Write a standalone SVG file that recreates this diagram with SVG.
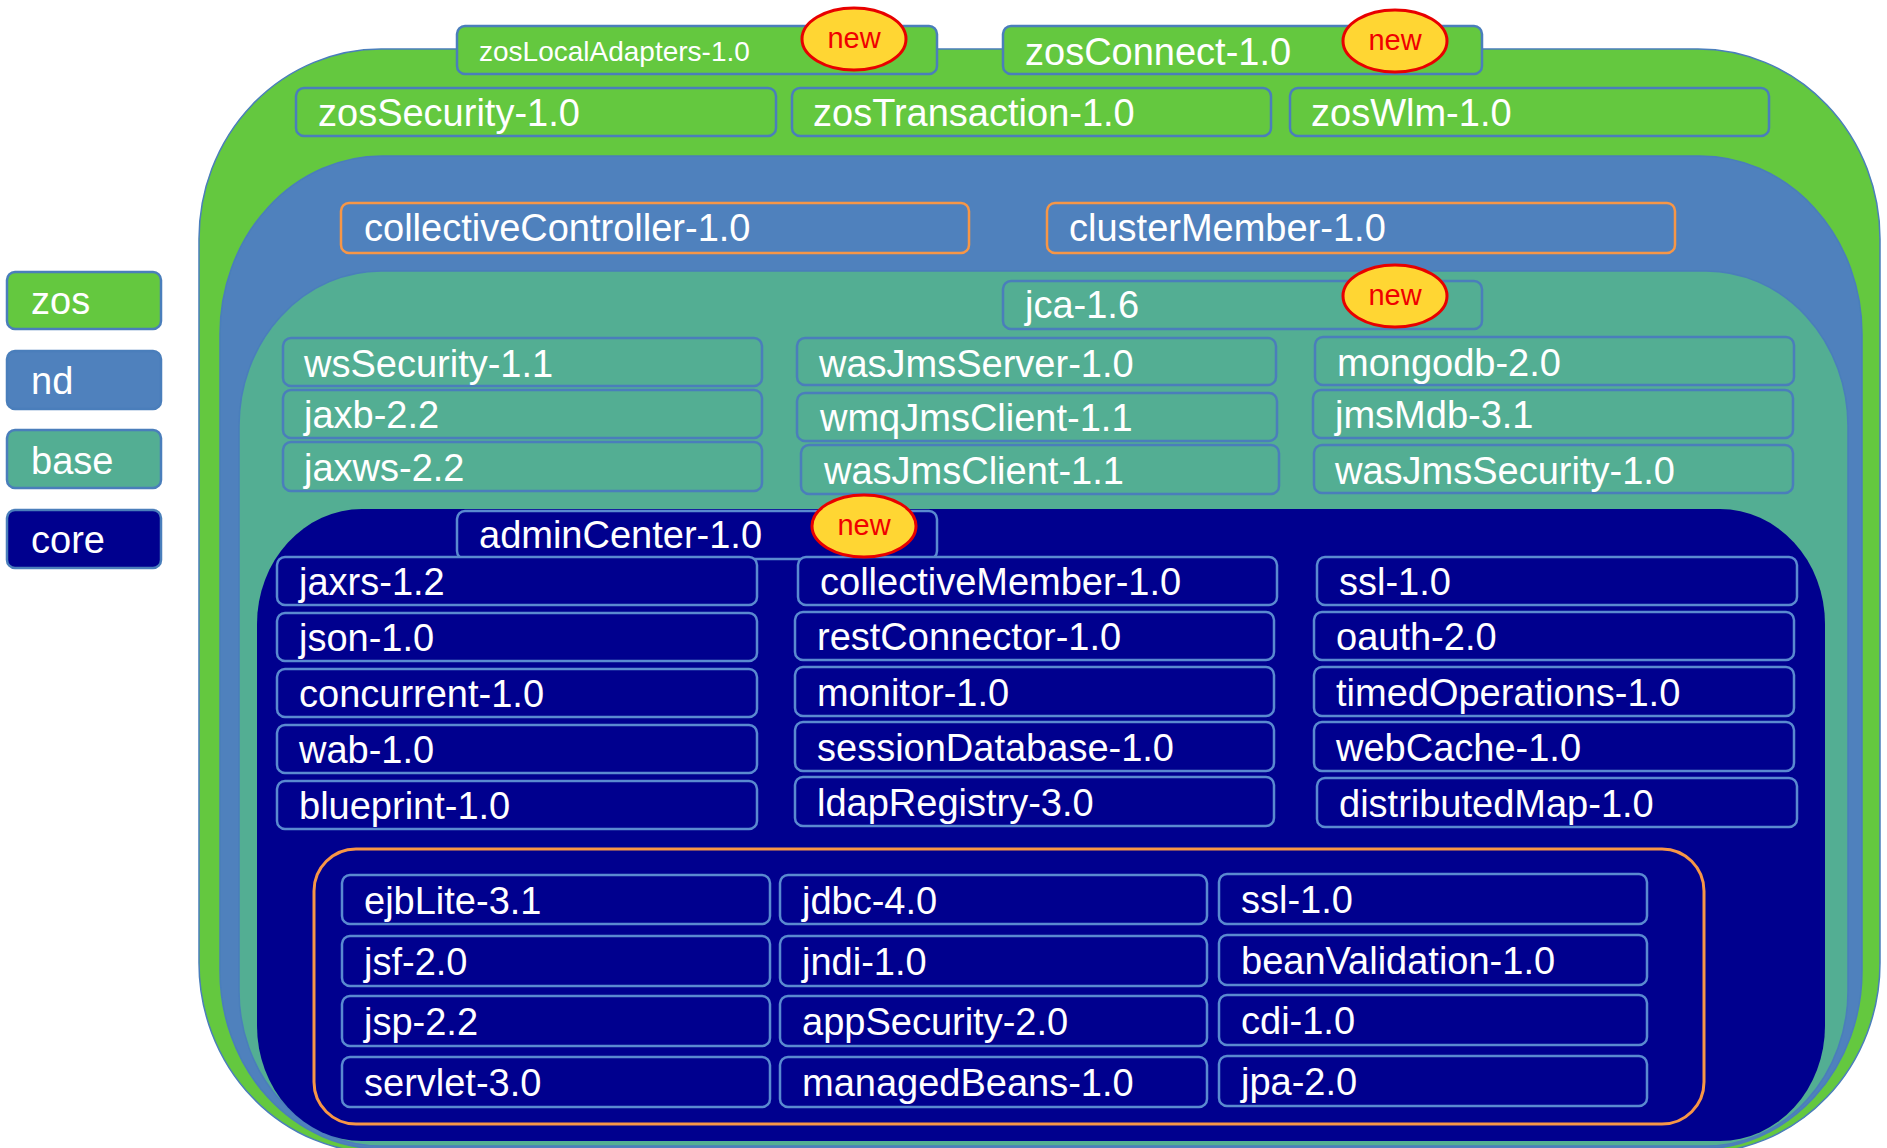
<svg xmlns="http://www.w3.org/2000/svg" width="1887" height="1148" viewBox="0 0 1887 1148">
<style>
text{font-family:"Liberation Sans",Arial,sans-serif;fill:#fff;font-size:38px}
.s{font-size:28px}
.nw{fill:#F00000;font-size:29px;text-anchor:middle}
.gn{fill:#64C83F;stroke:#4A7EBB;stroke-width:2.5}
.nd{fill:#4F81BD;stroke:#F79646;stroke-width:2.5}
.bs{fill:#53AE93;stroke:#4A7EBB;stroke-width:2.5}
.cr{fill:#00008E;stroke:#5A8AD0;stroke-width:2.5}
.bd{fill:#FFD633;stroke:#E80000;stroke-width:3}
.lay{stroke:#4A7EBB;stroke-width:1.5}
</style>
<rect width="1887" height="1148" fill="#fff"/>
<g id="layers">
<rect id="layer-zos" class="lay" x="199" y="49" width="1681" height="1104" rx="182" ry="190" fill="#64C83F"/>
<rect id="layer-nd" class="lay" x="220" y="156" width="1642" height="993" rx="162" ry="178" fill="#4F81BD"/>
<rect id="layer-base" class="lay" x="239" y="271" width="1609" height="875" rx="142" ry="155" fill="#53AE93"/>
<rect id="layer-core" x="257" y="509" width="1568" height="632" rx="105" ry="115" fill="#00008E"/>
<rect id="app-group" x="314" y="849" width="1390" height="275" rx="42" fill="none" stroke="#F79646" stroke-width="3"/>
</g>
<g id="connectors"/>
<g id="legend">
<g id="legend-zos"><rect class="gn" x="7" y="272" width="154" height="57" rx="8"/><text x="31" y="314">zos</text></g>
<g id="legend-nd"><rect class="bs" style="fill:#4F81BD" x="7" y="351" width="154" height="58" rx="8"/><text x="31" y="394">nd</text></g>
<g id="legend-base"><rect class="bs" x="7" y="430" width="154" height="58" rx="8"/><text x="31" y="474">base</text></g>
<g id="legend-core"><rect class="bs" style="fill:#00008E" x="7" y="510" width="154" height="58" rx="8"/><text x="31" y="553">core</text></g>
</g>
<g id="zos-nodes">
<g id="zosLocalAdapters"><rect class="gn" x="457" y="26" width="480" height="48" rx="8"/><text class="s" x="479" y="61">zosLocalAdapters-1.0</text></g>
<g id="zosConnect"><rect class="gn" x="1003" y="26" width="479" height="48" rx="8"/><text x="1025" y="65">zosConnect-1.0</text></g>
<g id="zosSecurity"><rect class="gn" x="296" y="88" width="480" height="48" rx="8"/><text x="318" y="126">zosSecurity-1.0</text></g>
<g id="zosTransaction"><rect class="gn" x="792" y="88" width="479" height="48" rx="8"/><text x="813" y="126">zosTransaction-1.0</text></g>
<g id="zosWlm"><rect class="gn" x="1290" y="88" width="479" height="48" rx="8"/><text x="1311" y="126">zosWlm-1.0</text></g>
</g>
<g id="nd-nodes">
<g id="collectiveController"><rect class="nd" x="341" y="203" width="628" height="50" rx="8"/><text x="364" y="241">collectiveController-1.0</text></g>
<g id="clusterMember"><rect class="nd" x="1047" y="203" width="628" height="50" rx="8"/><text x="1069" y="241">clusterMember-1.0</text></g>
</g>
<g id="base-nodes">
<g id="jca"><rect class="bs" x="1003" y="281" width="479" height="48" rx="8"/><text x="1025" y="318">jca-1.6</text></g>
<g id="wsSecurity"><rect class="bs" x="283" y="338" width="479" height="48" rx="8"/><text x="304" y="377">wsSecurity-1.1</text></g>
<g id="jaxb"><rect class="bs" x="283" y="390" width="479" height="48" rx="8"/><text x="304" y="428">jaxb-2.2</text></g>
<g id="jaxws"><rect class="bs" x="283" y="442" width="479" height="49" rx="8"/><text x="304" y="481">jaxws-2.2</text></g>
<g id="wasJmsServer"><rect class="bs" x="797" y="338" width="479" height="47" rx="8"/><text x="819" y="377">wasJmsServer-1.0</text></g>
<g id="wmqJmsClient"><rect class="bs" x="797" y="393" width="480" height="48" rx="8"/><text x="820" y="431">wmqJmsClient-1.1</text></g>
<g id="wasJmsClient"><rect class="bs" x="801" y="445" width="478" height="49" rx="8"/><text x="824" y="484">wasJmsClient-1.1</text></g>
<g id="mongodb"><rect class="bs" x="1315" y="337" width="479" height="48" rx="8"/><text x="1337" y="376">mongodb-2.0</text></g>
<g id="jmsMdb"><rect class="bs" x="1313" y="390" width="480" height="48" rx="8"/><text x="1335" y="428">jmsMdb-3.1</text></g>
<g id="wasJmsSecurity"><rect class="bs" x="1314" y="445" width="479" height="48" rx="8"/><text x="1335" y="484">wasJmsSecurity-1.0</text></g>
</g>
<g id="core-nodes">
<g id="adminCenter"><rect class="cr" x="457" y="511" width="480" height="48" rx="8"/><text x="479" y="548">adminCenter-1.0</text></g>
<g id="jaxrs"><rect class="cr" x="277" y="557" width="480" height="48" rx="8"/><text x="299" y="595">jaxrs-1.2</text></g>
<g id="json"><rect class="cr" x="277" y="613" width="480" height="48" rx="8"/><text x="299" y="651">json-1.0</text></g>
<g id="concurrent"><rect class="cr" x="277" y="669" width="480" height="48" rx="8"/><text x="299" y="707">concurrent-1.0</text></g>
<g id="wab"><rect class="cr" x="277" y="725" width="480" height="48" rx="8"/><text x="299" y="763">wab-1.0</text></g>
<g id="blueprint"><rect class="cr" x="277" y="781" width="480" height="48" rx="8"/><text x="299" y="819">blueprint-1.0</text></g>
<g id="collectiveMember"><rect class="cr" x="798" y="557" width="479" height="48" rx="8"/><text x="820" y="595">collectiveMember-1.0</text></g>
<g id="restConnector"><rect class="cr" x="795" y="612" width="479" height="48" rx="8"/><text x="817" y="650">restConnector-1.0</text></g>
<g id="monitor"><rect class="cr" x="795" y="667" width="479" height="49" rx="8"/><text x="817" y="706">monitor-1.0</text></g>
<g id="sessionDatabase"><rect class="cr" x="795" y="722" width="479" height="49" rx="8"/><text x="817" y="761">sessionDatabase-1.0</text></g>
<g id="ldapRegistry"><rect class="cr" x="795" y="777" width="479" height="49" rx="8"/><text x="817" y="816">ldapRegistry-3.0</text></g>
<g id="ssl-core"><rect class="cr" x="1317" y="557" width="480" height="48" rx="8"/><text x="1339" y="595">ssl-1.0</text></g>
<g id="oauth"><rect class="cr" x="1314" y="612" width="480" height="48" rx="8"/><text x="1336" y="650">oauth-2.0</text></g>
<g id="timedOperations"><rect class="cr" x="1314" y="667" width="480" height="49" rx="8"/><text x="1336" y="706">timedOperations-1.0</text></g>
<g id="webCache"><rect class="cr" x="1314" y="722" width="480" height="49" rx="8"/><text x="1336" y="761">webCache-1.0</text></g>
<g id="distributedMap"><rect class="cr" x="1317" y="778" width="480" height="49" rx="8"/><text x="1339" y="817">distributedMap-1.0</text></g>
</g>
<g id="app-nodes">
<g id="ejbLite"><rect class="cr" x="342" y="875" width="428" height="49" rx="8"/><text x="364" y="914">ejbLite-3.1</text></g>
<g id="jsf"><rect class="cr" x="342" y="936" width="428" height="50" rx="8"/><text x="364" y="975">jsf-2.0</text></g>
<g id="jsp"><rect class="cr" x="342" y="996" width="428" height="50" rx="8"/><text x="364" y="1035">jsp-2.2</text></g>
<g id="servlet"><rect class="cr" x="342" y="1057" width="428" height="50" rx="8"/><text x="364" y="1096">servlet-3.0</text></g>
<g id="jdbc"><rect class="cr" x="780" y="875" width="427" height="49" rx="8"/><text x="802" y="914">jdbc-4.0</text></g>
<g id="jndi"><rect class="cr" x="780" y="936" width="427" height="50" rx="8"/><text x="802" y="975">jndi-1.0</text></g>
<g id="appSecurity"><rect class="cr" x="780" y="996" width="427" height="50" rx="8"/><text x="802" y="1035">appSecurity-2.0</text></g>
<g id="managedBeans"><rect class="cr" x="780" y="1057" width="427" height="50" rx="8"/><text x="802" y="1096">managedBeans-1.0</text></g>
<g id="ssl-app"><rect class="cr" x="1219" y="874" width="428" height="50" rx="8"/><text x="1241" y="913">ssl-1.0</text></g>
<g id="beanValidation"><rect class="cr" x="1219" y="935" width="428" height="50" rx="8"/><text x="1241" y="974">beanValidation-1.0</text></g>
<g id="cdi"><rect class="cr" x="1219" y="995" width="428" height="50" rx="8"/><text x="1241" y="1034">cdi-1.0</text></g>
<g id="jpa"><rect class="cr" x="1219" y="1056" width="428" height="50" rx="8"/><text x="1241" y="1095">jpa-2.0</text></g>
</g>
<g id="badges">
<g id="new-zosLocalAdapters"><ellipse class="bd" cx="854" cy="39" rx="52" ry="31"/><text class="nw" x="854" y="48">new</text></g>
<g id="new-zosConnect"><ellipse class="bd" cx="1395" cy="41" rx="52" ry="31"/><text class="nw" x="1395" y="50">new</text></g>
<g id="new-jca"><ellipse class="bd" cx="1395" cy="296" rx="52" ry="31"/><text class="nw" x="1395" y="305">new</text></g>
<g id="new-adminCenter"><ellipse class="bd" cx="864" cy="526" rx="52" ry="31"/><text class="nw" x="864" y="535">new</text></g>
</g>
</svg>
